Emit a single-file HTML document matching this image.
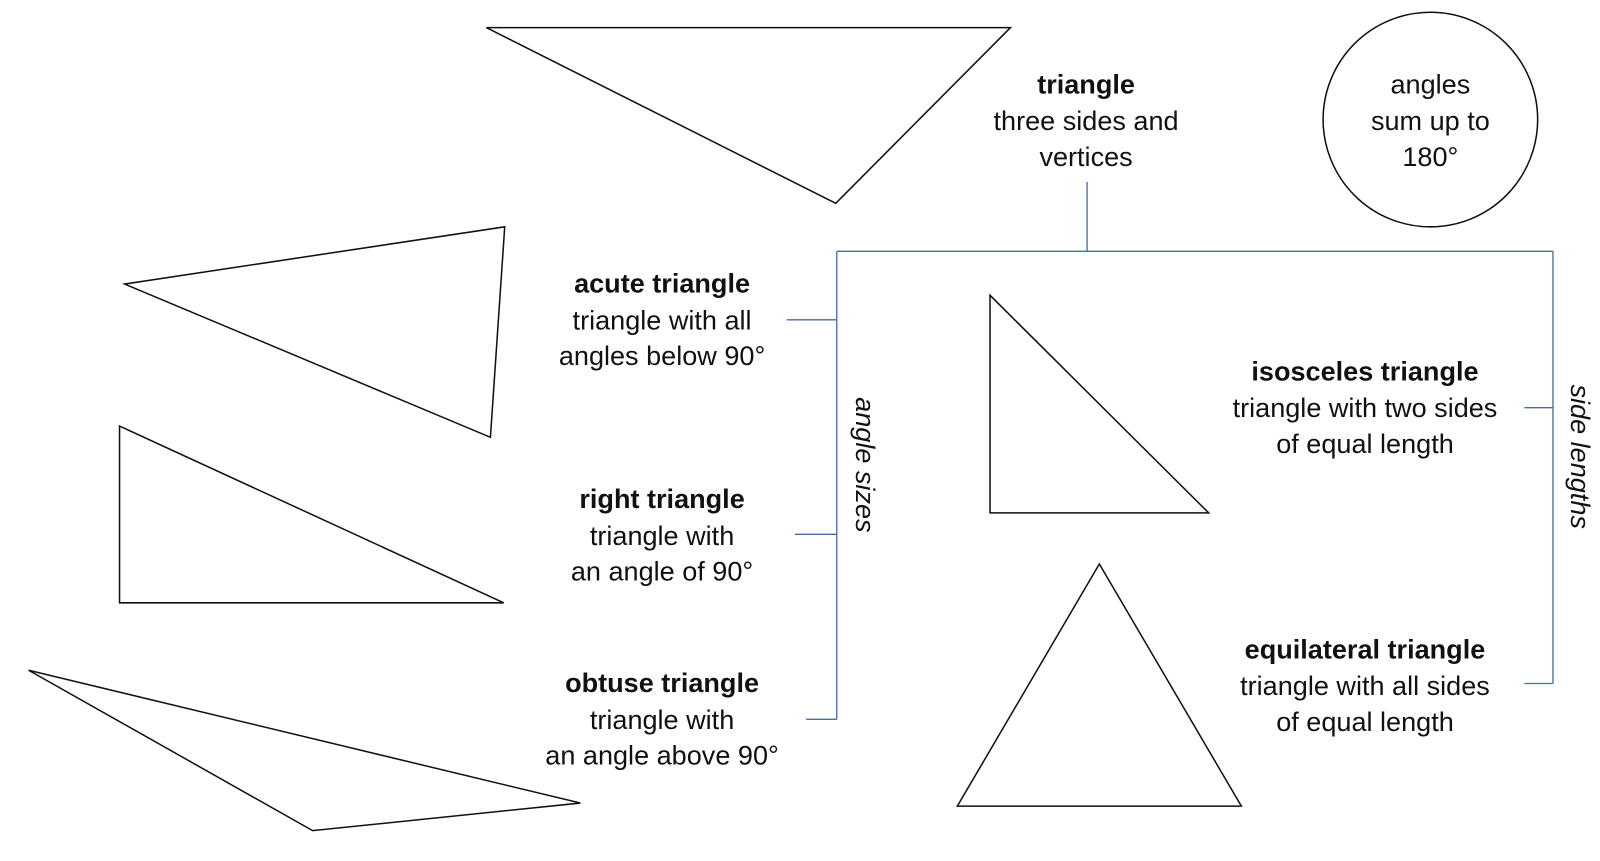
<!DOCTYPE html>
<html><head><meta charset="utf-8"><style>
html,body{margin:0;padding:0;background:#fff;}
svg{display:block;}
text{font-family:"Liberation Sans",sans-serif;font-size:26.5px;fill:#111;text-anchor:middle;dominant-baseline:central;}
.b{font-weight:bold;}
.i{font-style:italic;}
</style></head><body>
<svg width="1600" height="861" viewBox="0 0 1600 861" xmlns="http://www.w3.org/2000/svg">
<g transform="scale(1.0217)">
<g fill="none" stroke="#111" stroke-width="1.5">
<polygon points="476,27 989,27 818,199"/>
<polygon points="122,278 494,222 480,428"/>
<polygon points="117,417 117,590 493,590"/>
<polygon points="28,656 568,786 306,813"/>
<polygon points="969,289 969,502 1183,502"/>
<polygon points="1076,552 937,789 1215,789"/>
<circle cx="1400" cy="117" r="105"/>
</g>
<g fill="none" stroke="#4a6aa5" stroke-width="1.3">
<line x1="1064" y1="178" x2="1064" y2="246"/>
<line x1="819" y1="246" x2="1520" y2="246"/>
<line x1="819" y1="246" x2="819" y2="704"/>
<line x1="770" y1="313" x2="819" y2="313"/>
<line x1="778" y1="523" x2="819" y2="523"/>
<line x1="789" y1="704" x2="819" y2="704"/>
<line x1="1520" y1="246" x2="1520" y2="669"/>
<line x1="1492" y1="399" x2="1520" y2="399"/>
<line x1="1492" y1="669" x2="1520" y2="669"/>
</g>
<text x="1063" y="82" class="b">triangle</text>
<text x="1063" y="118">three sides and</text>
<text x="1063" y="153">vertices</text>
<text x="1400" y="82">angles</text>
<text x="1400" y="118">sum up to</text>
<text x="1400" y="153">180°</text>
<text x="648" y="277" class="b">acute triangle</text>
<text x="648" y="313">triangle with all</text>
<text x="648" y="348">angles below 90°</text>
<text x="648" y="488" class="b">right triangle</text>
<text x="648" y="524">triangle with</text>
<text x="648" y="559">an angle of 90°</text>
<text x="648" y="668" class="b">obtuse triangle</text>
<text x="648" y="704">triangle with</text>
<text x="648" y="739">an angle above 90°</text>
<text x="1336" y="363" class="b">isosceles triangle</text>
<text x="1336" y="399">triangle with two sides</text>
<text x="1336" y="434">of equal length</text>
<text x="1336" y="635" class="b">equilateral  triangle</text>
<text x="1336" y="671">triangle with all sides</text>
<text x="1336" y="706">of equal length</text>
<text x="847" y="455" class="i" transform="rotate(90 847 455)">angle sizes</text>
<text x="1547" y="447" class="i" transform="rotate(90 1547 447)">side lengths</text>
</g>
</svg>
</body></html>
